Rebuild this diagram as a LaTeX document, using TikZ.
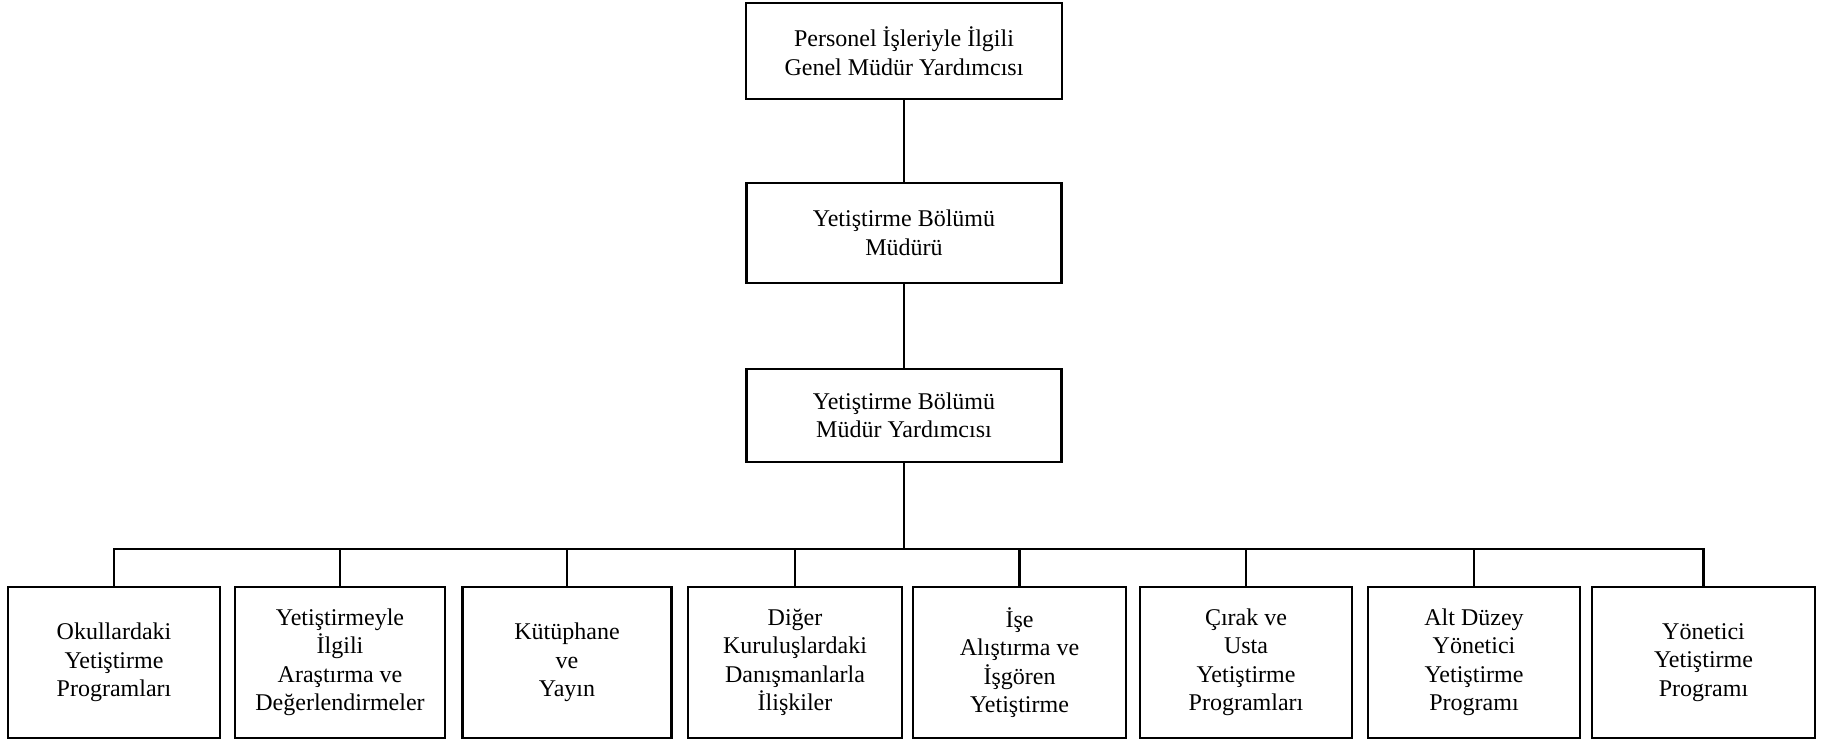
\documentclass[tikz,border=0pt]{standalone}
\usepackage{fontspec}
\setmainfont{Liberation Serif}
\begin{document}
\begin{tikzpicture}[x=1pt,y=-1pt,
  unit/.style={draw, line width=2.2pt, align=center, inner sep=0pt,
    font=\fontsize{24}{28.5}\selectfont},
  link/.style={line width=2.2pt}]
\useasboundingbox (0,0) rectangle (1822,741);

% upper chain of command
\node[unit, minimum width=316, minimum height=96] (gmy) at (904,51)
  {Personel İşleriyle İlgili\\Genel Müdür Yardımcısı};
\node[unit, minimum width=315, minimum height=100] (ybm) at (904,233)
  {Yetiştirme Bölümü\\Müdürü};
\node[unit, minimum width=315, minimum height=93] (ybmy) at (904,415.5)
  {Yetiştirme Bölümü\\Müdür Yardımcısı};

% training units
\node[unit, minimum width=212, minimum height=151] (u1) at (114,662.5)
  {Okullardaki\\Yetiştirme\\Programları};
\node[unit, minimum width=210, minimum height=151] (u2) at (340,662.5)
  {Yetiştirmeyle\\İlgili\\Araştırma ve\\Değerlendirmeler};
\node[unit, minimum width=209, minimum height=151] (u3) at (567,662.5)
  {Kütüphane\\ve\\Yayın};
\node[unit, minimum width=214, minimum height=151] (u4) at (795,662.5)
  {Diğer\\Kuruluşlardaki\\Danışmanlarla\\İlişkiler};
\node[unit, minimum width=213, minimum height=151] (u5) at (1019.5,662.5)
  {İşe\\Alıştırma ve\\İşgören\\Yetiştirme};
\node[unit, minimum width=212, minimum height=151] (u6) at (1246,662.5)
  {Çırak ve\\Usta\\Yetiştirme\\Programları};
\node[unit, minimum width=212, minimum height=151] (u7) at (1474,662.5)
  {Alt Düzey\\Yönetici\\Yetiştirme\\Programı};
\node[unit, minimum width=223, minimum height=151] (u8) at (1703.5,662.5)
  {Yönetici\\Yetiştirme\\Programı};

% connectors
\coordinate (bus) at (904,549);
\draw[link] (gmy.south) -- (ybm.north);
\draw[link] (ybm.south) -- (ybmy.north);
\draw[link] (ybmy.south) -- (bus);
% horizontal bus with the two outer drops
\draw[link] (u1.north) |- (bus) -| (u8.north);
% inner drops
\foreach \u in {u2,u3,u4,u5,u6,u7}
  \draw[link] (\u.north) -- (\u.north |- bus);
\end{tikzpicture}
\end{document}
